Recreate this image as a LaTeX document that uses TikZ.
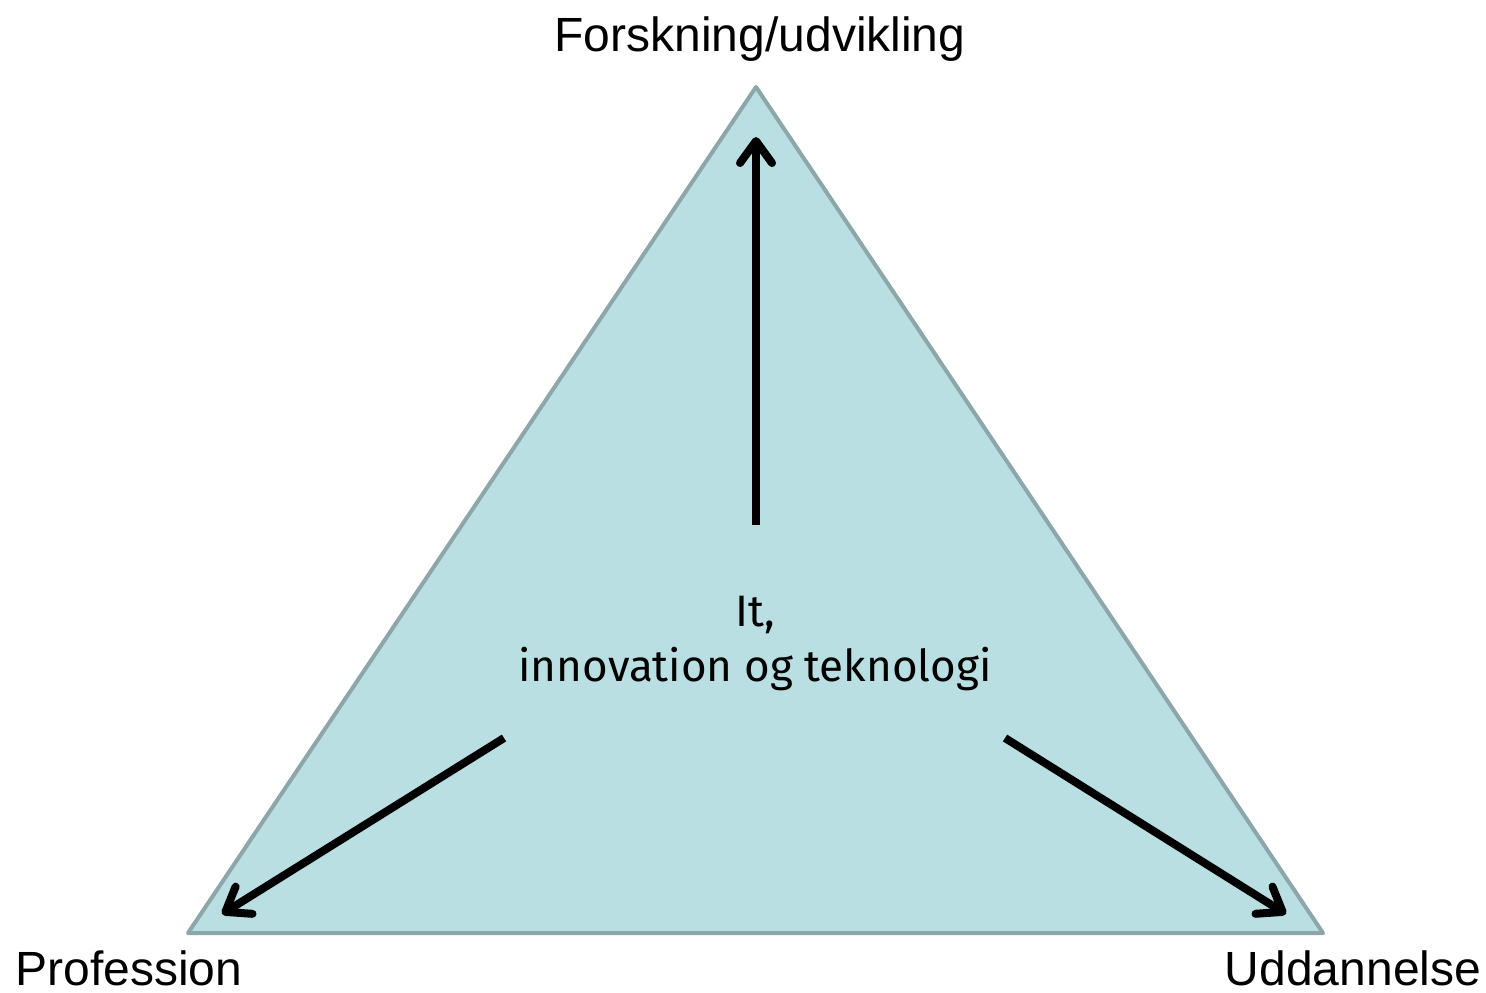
\documentclass[tikz,border=0pt]{standalone}
\usepackage{fontspec}
\setmainfont{Liberation Sans}
\newfontfamily\centerfont{Fira Sans}
\usetikzlibrary{arrows.meta}
\definecolor{trifill}{HTML}{B9DFE3}
\definecolor{tristroke}{HTML}{8CA6AA}
\begin{document}
\begin{tikzpicture}[x=0.5pt,y=-0.5pt,
  corner/.style={font=\fontsize{24}{28}\selectfont, inner sep=0pt},
  flow/.style={line width=4pt, -{Straight Barb[length=11pt,width=16pt,line width=4pt,round]}},
  tri/.style={fill=trifill, draw=tristroke, line width=2pt, line join=round}]
\useasboundingbox (0,0) rectangle (1486,992);
\coordinate (top) at (756,87);
\coordinate (bl) at (188,933);
\coordinate (br) at (1323,933);
\draw[tri] (top) -- (br) -- (bl) -- cycle;
\node[corner, anchor=base] (forsk) at (760,51) {Forskning/udvikling};
\node[corner, anchor=base] (prof) at (129,985) {Profession};
\node[corner, anchor=base] (udd) at (1353,985) {Uddannelse};
\node[inner sep=0pt, anchor=base] (it) at (755,626) {\centerfont\fontsize{22}{26}\selectfont It,};
\node[inner sep=0pt, anchor=base] (inno) at (755,681) {\centerfont\fontsize{22}{26}\selectfont innovation og teknologi};
\coordinate (s1) at (756,525);
\coordinate (e1) at (756,137);
\coordinate (s2) at (504,738);
\coordinate (e2) at (222,914);
\coordinate (s3) at (1005,738);
\coordinate (e3) at (1286,914);
\draw[flow] (s1) -- (e1);
\draw[flow] (s2) -- (e2);
\draw[flow] (s3) -- (e3);
\end{tikzpicture}
\end{document}
